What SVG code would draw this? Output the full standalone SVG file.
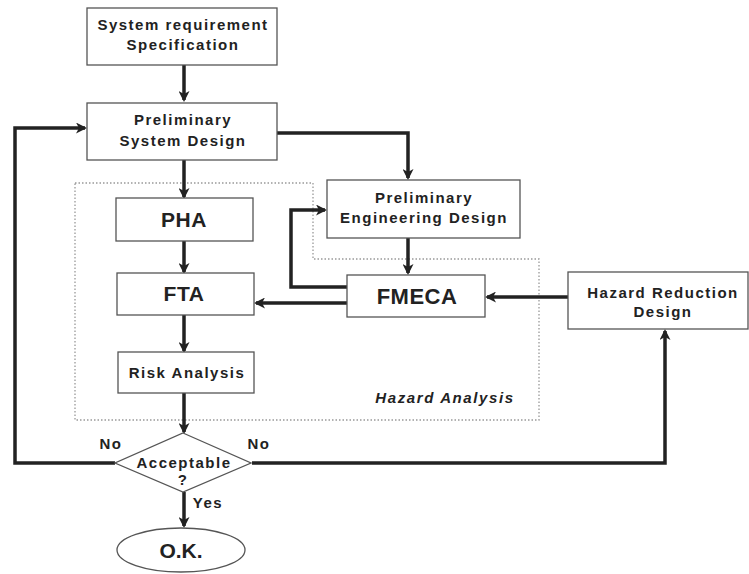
<svg xmlns="http://www.w3.org/2000/svg" width="749" height="574" viewBox="0 0 749 574">
<defs>
<marker id="ah" markerWidth="11" markerHeight="11" refX="9" refY="5.5" orient="auto" markerUnits="userSpaceOnUse" viewBox="0 0 11 11">
<path d="M0,0 L11,5.5 L0,11 L3,5.5 Z" fill="#222"/>
</marker>
<style>
.box{fill:#fff;stroke:#555;stroke-width:1.3}
.t{font-family:"Liberation Sans",Arial,sans-serif;font-weight:bold;fill:#222;text-anchor:middle}
.s{font-size:15px;letter-spacing:1.5px}
.b{font-size:21px;letter-spacing:0.5px}
.c{fill:none;stroke:#222;stroke-width:3.5}
.dot{fill:none;stroke:#999;stroke-width:1.3;stroke-dasharray:1.5 2}
</style>
</defs>
<rect width="749" height="574" fill="#fff"/>
<path class="dot" d="M75,183 H313 V259 H539 V420 H75 Z"/>
<text x="445" y="403" class="t" style="font-size:15px;font-style:italic;letter-spacing:1.6px">Hazard Analysis</text>
<g id="connectors">
<path class="c" d="M184,65 V100" marker-end="url(#ah)"/>
<path class="c" d="M184,160 V197" marker-end="url(#ah)"/>
<path class="c" d="M184,241 V272" marker-end="url(#ah)"/>
<path class="c" d="M184,315 V351" marker-end="url(#ah)"/>
<path class="c" d="M184,393 V432" marker-end="url(#ah)"/>
<path class="c" d="M184,492 V526" marker-end="url(#ah)"/>
<path class="c" d="M277,133 H408 V178" marker-end="url(#ah)"/>
<path class="c" d="M408,238 V273" marker-end="url(#ah)"/>
<path class="c" d="M347,287 H291 V210 H325" marker-end="url(#ah)"/>
<path class="c" d="M347,303 H256" marker-end="url(#ah)"/>
<path class="c" d="M568,297 H487" marker-end="url(#ah)"/>
<path class="c" d="M252,463 H665 V331" marker-end="url(#ah)"/>
<path class="c" d="M115,463 H15 V128 H85" marker-end="url(#ah)"/>
</g>
<g id="n-srs">
<rect class="box" x="87" y="8" width="190" height="57"/>
<text class="t s" x="183" y="30">System requirement</text>
<text class="t s" x="183" y="50">Specification</text>
</g>
<g id="n-psd">
<rect class="box" x="87" y="103" width="190" height="57"/>
<text class="t s" x="183" y="125">Preliminary</text>
<text class="t s" x="183" y="146">System Design</text>
</g>
<g id="n-ped">
<rect class="box" x="327" y="180" width="193" height="58"/>
<text class="t s" x="424" y="203">Preliminary</text>
<text class="t s" x="424" y="223">Engineering Design</text>
</g>
<g id="n-pha">
<rect class="box" x="116" y="198" width="137" height="43"/>
<text class="t b" x="184" y="227">PHA</text>
</g>
<g id="n-fta">
<rect class="box" x="117" y="273" width="137" height="42"/>
<text class="t b" x="184" y="301">FTA</text>
</g>
<g id="n-fmeca">
<rect class="box" x="347" y="275" width="138" height="42"/>
<text class="t" x="417" y="304" style="font-size:22px;letter-spacing:0.5px">FMECA</text>
</g>
<g id="n-risk">
<rect class="box" x="118" y="352" width="136" height="41"/>
<text class="t s" x="187" y="378">Risk Analysis</text>
</g>
<g id="n-hrd">
<rect class="box" x="568" y="272" width="180" height="57"/>
<text class="t s" x="663" y="298">Hazard Reduction</text>
<text class="t s" x="663" y="317">Design</text>
</g>
<g id="n-acc">
<path class="box" d="M183,433 L251,463 L183,492 L115,463 Z"/>
<text class="t s" x="184" y="468">Acceptable</text>
<text class="t s" x="183" y="485">?</text>
</g>
<g id="n-ok">
<ellipse class="box" cx="181" cy="550" rx="64" ry="22"/>
<text class="t" x="181" y="558" style="font-size:21px">O.K.</text>
</g>
<g id="labels">
<text class="t s" x="111" y="449">No</text>
<text class="t s" x="259" y="449">No</text>
<text class="t s" x="208" y="508">Yes</text>
</g>
</svg>
